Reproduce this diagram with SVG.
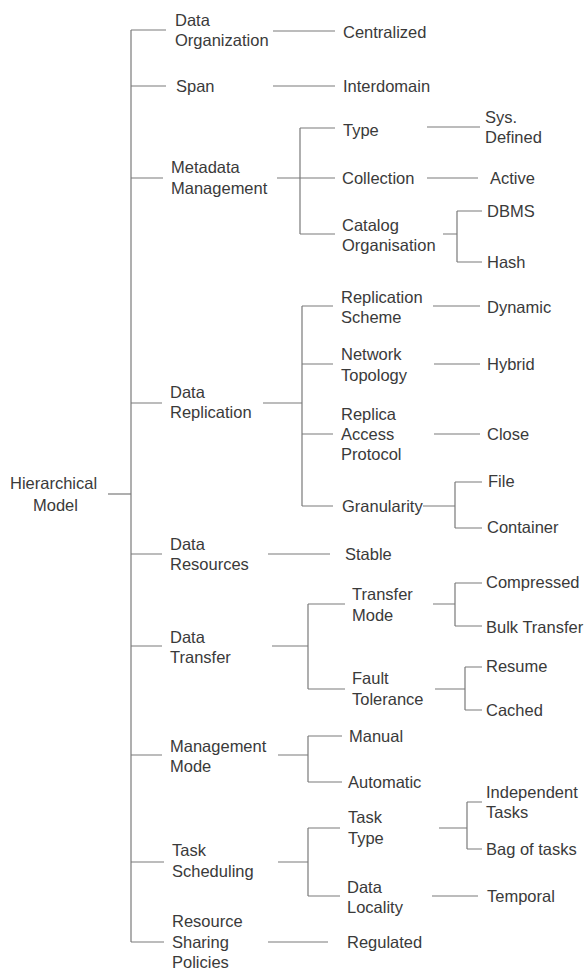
<svg xmlns="http://www.w3.org/2000/svg" width="587" height="970" viewBox="0 0 587 970">
<style>
  text { font-family: "Liberation Sans", Arial, sans-serif; font-size: 16.5px; fill: #3a3a3a; dominant-baseline: central; }
  .conn path { fill: none; stroke: #7a7a7a; stroke-width: 1.2; }
</style>
<rect width="587" height="970" fill="#ffffff"/>

<g class="conn" id="connectors">
  <!-- root to main trunk -->
  <path d="M108 494 H131"/>
  <path d="M131 30 V942"/>
  <path d="M131 30 H166 M131 86 H166 M131 178 H163 M131 403 H162 M131 554 H162 M131 646 H162 M131 755 H162 M131 862 H164 M131 942 H164"/>
  <!-- single-child links -->
  <path d="M273 31 H335 M273 86 H335 M268 554 H330 M268 942 H328"/>
  <!-- Metadata Management -->
  <path d="M277 178 H300 M300 128 V234 M300 128 H335 M300 178 H335 M300 234 H335"/>
  <path d="M427 127 H480 M427 178 H478"/>
  <path d="M443 234 H457 M457 211 V262 M457 211 H482 M457 262 H482"/>
  <!-- Data Replication -->
  <path d="M263 403 H302 M302 306 V506 M302 306 H333 M302 364 H333 M302 434 H333 M302 506 H333"/>
  <path d="M433 306 H480 M434 364 H480 M434 434 H480"/>
  <path d="M423 506 H455 M455 482 V528 M455 482 H482 M455 528 H482"/>
  <!-- Data Transfer -->
  <path d="M272 646 H308 M308 604 V689 M308 604 H345 M308 689 H345"/>
  <path d="M433 604 H455 M455 583 V626 M455 583 H482 M455 626 H482"/>
  <path d="M435 689 H465 M465 667 V710 M465 667 H482 M465 710 H482"/>
  <!-- Management Mode -->
  <path d="M278 755 H308 M308 736 V782 M308 736 H342 M308 782 H342"/>
  <!-- Task Scheduling -->
  <path d="M278 862 H308 M308 828 V896 M308 828 H340 M308 896 H340"/>
  <path d="M439 828 H467 M467 802 V849 M467 802 H482 M467 849 H482"/>
  <path d="M432 896 H478"/>
</g>

<g id="hierarchical-model"><text x="10" y="483">Hierarchical<tspan x="33" y="505">Model</tspan></text></g>

<g id="data-organization"><text x="175" y="20">Data<tspan x="175" y="40">Organization</tspan></text></g>
<g id="centralized"><text x="343" y="32">Centralized</text></g>
<g id="span"><text x="176" y="86">Span</text></g>
<g id="interdomain"><text x="343" y="86">Interdomain</text></g>

<g id="metadata-management"><text x="171" y="167">Metadata<tspan x="171" y="188">Management</tspan></text></g>
<g id="type"><text x="343" y="130">Type</text></g>
<g id="sys-defined"><text x="485" y="117">Sys.<tspan x="485" y="137">Defined</tspan></text></g>
<g id="collection"><text x="342" y="178">Collection</text></g>
<g id="active"><text x="490" y="178">Active</text></g>
<g id="catalog-organisation"><text x="342" y="225">Catalog<tspan x="342" y="245">Organisation</tspan></text></g>
<g id="dbms"><text x="487" y="211">DBMS</text></g>
<g id="hash"><text x="487" y="262">Hash</text></g>

<g id="data-replication"><text x="170" y="392">Data<tspan x="170" y="412">Replication</tspan></text></g>
<g id="replication-scheme"><text x="341" y="297">Replication<tspan x="341" y="317">Scheme</tspan></text></g>
<g id="dynamic"><text x="487" y="307">Dynamic</text></g>
<g id="network-topology"><text x="341" y="354">Network<tspan x="341" y="375">Topology</tspan></text></g>
<g id="hybrid"><text x="487" y="364">Hybrid</text></g>
<g id="replica-access-protocol"><text x="341" y="414">Replica<tspan x="341" y="434">Access</tspan><tspan x="341" y="454">Protocol</tspan></text></g>
<g id="close"><text x="487" y="434">Close</text></g>
<g id="granularity"><text x="342" y="506">Granularity</text></g>
<g id="file"><text x="488" y="481">File</text></g>
<g id="container"><text x="487" y="527">Container</text></g>

<g id="data-resources"><text x="170" y="544">Data<tspan x="170" y="564">Resources</tspan></text></g>
<g id="stable"><text x="345" y="554">Stable</text></g>

<g id="data-transfer"><text x="170" y="637">Data<tspan x="170" y="657">Transfer</tspan></text></g>
<g id="transfer-mode"><text x="352" y="594">Transfer<tspan x="352" y="615">Mode</tspan></text></g>
<g id="compressed"><text x="486" y="582">Compressed</text></g>
<g id="bulk-transfer"><text x="486" y="627">Bulk Transfer</text></g>
<g id="fault-tolerance"><text x="352" y="678">Fault<tspan x="352" y="699">Tolerance</tspan></text></g>
<g id="resume"><text x="486" y="666">Resume</text></g>
<g id="cached"><text x="486" y="710">Cached</text></g>

<g id="management-mode"><text x="170" y="746">Management<tspan x="170" y="766">Mode</tspan></text></g>
<g id="manual"><text x="349" y="736">Manual</text></g>
<g id="automatic"><text x="348" y="782">Automatic</text></g>

<g id="task-scheduling"><text x="172" y="850">Task<tspan x="172" y="871">Scheduling</tspan></text></g>
<g id="task-type"><text x="348" y="817">Task<tspan x="348" y="838">Type</tspan></text></g>
<g id="independent-tasks"><text x="486" y="792">Independent<tspan x="486" y="812">Tasks</tspan></text></g>
<g id="bag-of-tasks"><text x="486" y="849">Bag of tasks</text></g>
<g id="data-locality"><text x="347" y="887">Data<tspan x="347" y="907">Locality</tspan></text></g>
<g id="temporal"><text x="487" y="896">Temporal</text></g>

<g id="resource-sharing-policies"><text x="172" y="921">Resource<tspan x="172" y="942">Sharing</tspan><tspan x="172" y="962">Policies</tspan></text></g>
<g id="regulated"><text x="347" y="942">Regulated</text></g>
</svg>
